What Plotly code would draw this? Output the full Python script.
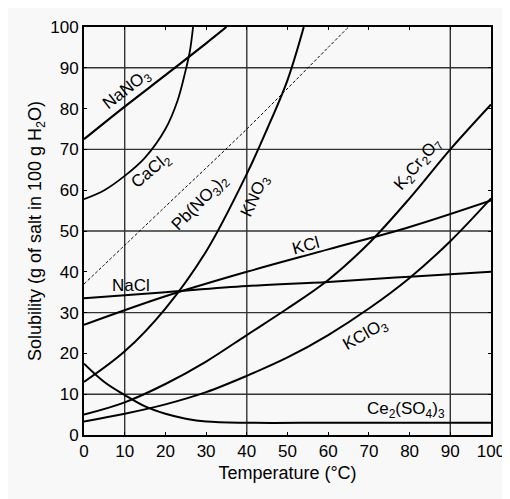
import plotly.graph_objects as go

# solubility curves, g of salt per 100 g water
nano3_t = [0, 10, 20, 30, 35]
nano3_s = [72.5, 80.5, 88.2, 96, 100]

cacl2_t = [0, 5, 10, 15, 20, 23, 25, 26, 26.8]
cacl2_s = [57.8, 60, 63.5, 68, 75, 82, 89.5, 94, 100]

pbno32_t = [0, 20, 40, 60, 65]
pbno32_s = [37, 56, 75, 95, 100]

kno3_t = [0, 10, 20, 30, 40, 45, 50, 54]
kno3_s = [13, 20.5, 31, 45, 64, 75, 87, 100]

nacl_t = [0, 20, 40, 60, 80, 100]
nacl_s = [33.5, 35, 36.5, 37.5, 38.8, 40]

kcl_t = [0, 20, 40, 60, 80, 100]
kcl_s = [27, 34, 40, 45.5, 51, 57.5]

k2cr2o7_t = [0, 10, 20, 30, 40, 50, 60, 70, 80, 90, 100]
k2cr2o7_s = [5, 8, 12.5, 18, 24.5, 31, 38, 47, 58, 70, 81]

kclo3_t = [0, 10, 20, 30, 40, 50, 60, 70, 80, 90, 100]
kclo3_s = [3.3, 5.2, 7.5, 10.5, 14.5, 19, 24.5, 31, 38.5, 47.5, 58]

ce2so43_t = [0, 5, 10, 15, 20, 25, 30, 40, 60, 80, 100]
ce2so43_s = [17.5, 13, 9.8, 7, 5.2, 4, 3.3, 3, 3, 3, 3]

grid_x = [10, 40, 90]
grid_y = [10, 30, 50, 70, 90]

labels = [
    ("NaNO<sub>3</sub>", 10.6, 84.6, -38),
    ("CaCl<sub>2</sub>", 16.7, 64.7, -40),
    ("Pb(NO<sub>3</sub>)<sub>2</sub>", 28.7, 56.8, -45),
    ("KNO<sub>3</sub>", 42.3, 58.5, -65),
    ("K<sub>2</sub>Cr<sub>2</sub>O<sub>7</sub>", 82.3, 66.4, -50),
    ("KCl", 54.5, 46.5, -15),
    ("NaCl", 11.5, 36.7, 0),
    ("KClO<sub>3</sub>", 69.3, 24.4, -30),
    ("Ce<sub>2</sub>(SO<sub>4</sub>)<sub>3</sub>", 79, 6.2, 0),
]

curves = [
    (nano3_t, nano3_s, "solid", 2.2),
    (cacl2_t, cacl2_s, "solid", 1.8),
    (pbno32_t, pbno32_s, "3px,2px", 1),
    (kno3_t, kno3_s, "solid", 2),
    (nacl_t, nacl_s, "solid", 2),
    (kcl_t, kcl_s, "solid", 2),
    (k2cr2o7_t, k2cr2o7_s, "solid", 2),
    (kclo3_t, kclo3_s, "solid", 2),
    (ce2so43_t, ce2so43_s, "solid", 2),
]

fig = go.Figure()

for gx in grid_x:
    fig.add_vline(x=gx, line=dict(color="#333", width=1.4), layer="below")
for gy in grid_y:
    fig.add_hline(y=gy, line=dict(color="#333", width=1.4), layer="below")

for t, s, dash, w in curves:
    fig.add_trace(go.Scatter(
        x=t, y=s, mode="lines",
        line=dict(color="black", width=w, dash=dash, shape="spline", smoothing=1),
        showlegend=False, hoverinfo="skip",
    ))

for text, lx, ly, ang in labels:
    fig.add_annotation(x=lx, y=ly, text=text, textangle=ang, showarrow=False,
                       font=dict(size=17, color="black"))

font_name = "Liberation Sans, Arial, sans-serif"

fig.update_layout(
    width=510, height=499,
    margin=dict(l=76, r=27, t=10, b=72),
    paper_bgcolor="#f8f8f8",
    plot_bgcolor="#f8f8f8",
    font=dict(family=font_name, color="black", size=17),
    xaxis=dict(
        range=[0, 100], tickvals=list(range(0, 101, 10)),
        showgrid=False, zeroline=False,
        showline=True, linecolor="black", linewidth=2, mirror="ticks",
        ticks="inside", ticklen=3, tickcolor="black",
        title=dict(text="Temperature (°C)", font=dict(size=18), standoff=6),
        tickfont=dict(size=17),
    ),
    yaxis=dict(
        range=[0, 100], tickvals=list(range(0, 101, 10)),
        showgrid=False, zeroline=False,
        showline=True, linecolor="black", linewidth=2, mirror="ticks",
        ticks="inside", ticklen=3, tickcolor="black",
        title=dict(text="Solubility (g of salt in 100 g H<sub>2</sub>O)", font=dict(size=18), standoff=4),
        tickfont=dict(size=17),
    ),
)

fig.write_html("out.html")
